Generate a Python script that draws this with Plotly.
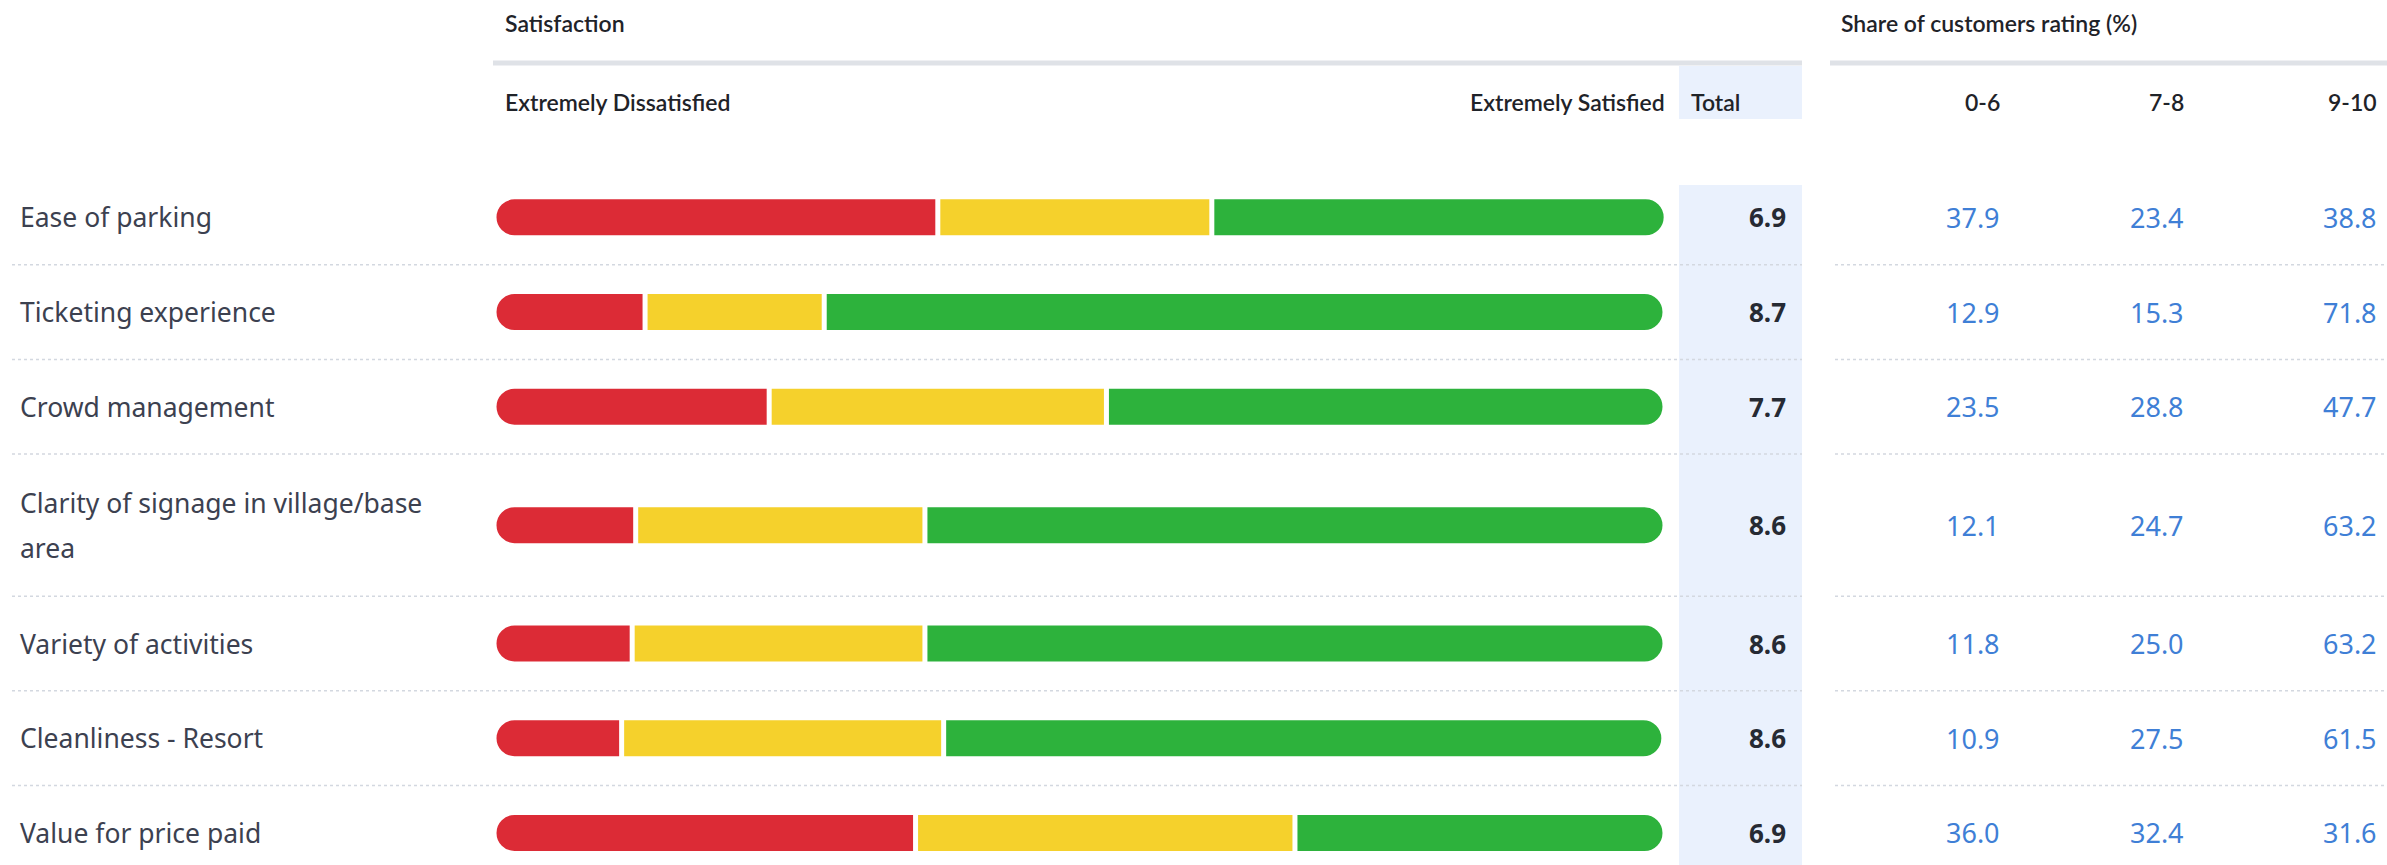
import textwrap
import plotly.graph_objects as go

# ---------------- data ----------------
categories = [
    "Ease of parking",
    "Ticketing experience",
    "Crowd management",
    "Clarity of signage in village/base area",
    "Variety of activities",
    "Cleanliness - Resort",
    "Value for price paid",
]
share_0_6 = [37.9, 12.9, 23.5, 12.1, 11.8, 10.9, 36.0]
share_7_8 = [23.4, 15.3, 28.8, 24.7, 25.0, 27.5, 32.4]
share_9_10 = [38.8, 71.8, 47.7, 63.2, 63.2, 61.5, 31.6]
totals = [6.9, 8.7, 7.7, 8.6, 8.6, 8.6, 6.9]
share_columns = ["0-6", "7-8", "9-10"]

# ---------------- layout constants ----------------
W, H = 2387, 865
BAR_X0, BAR_X1 = 494, 1665
TOTAL_X0, TOTAL_X1 = 1679, 1802
RIGHT_X0 = 1830
COL_RIGHT = [2002, 2186, 2379]
ROW_TOP = 170
UNIT = 94.7
BAR_W = 41
GAP = 5
TUCK = 2.5  # how far (in % units) the rounded segments slide under the middle segment

RED, YELLOW, GREEN = "#dc2b36", "#f5d12c", "#2db23c"
LABEL_COLOR = "#3c4150"
HEAD_COLOR = "#1f2329"
BLUE = "#3f7fd6"
TOTAL_BG = "#eaf1fd"
RULE = "#dfe2e7"
SEP = "#d3d8e0"

# wrap labels and compute row positions
wrapped = [textwrap.wrap(c, 34) for c in categories]
centers, tops = [], []
y = ROW_TOP
for lines in wrapped:
    h = UNIT * (1 + 0.5 * (len(lines) - 1))
    tops.append(y)
    centers.append(y + h / 2)
    y += h

def px(x):
    return x / W

fig = go.Figure()

common = dict(orientation="h", y=centers, width=BAR_W, hoverinfo="skip", showlegend=False)
# red: rounded capsule whose right end is tucked under the yellow segment
fig.add_trace(go.Bar(x=[v + TUCK for v in share_0_6], base=[0] * len(share_0_6),
                     marker=dict(color=RED, cornerradius="50%", line=dict(color="white", width=GAP)), **common))
# green: rounded capsule whose left end is tucked under the yellow segment
fig.add_trace(go.Bar(x=[g + TUCK for g in share_9_10],
                     base=[a + b - TUCK for a, b in zip(share_0_6, share_7_8)],
                     marker=dict(color=GREEN, cornerradius="50%", line=dict(color="white", width=GAP)), **common))
# yellow: square middle segment drawn on top
fig.add_trace(go.Bar(x=share_7_8, base=share_0_6,
                     marker=dict(color=YELLOW, cornerradius=0, line=dict(color="white", width=GAP)), **common))

shapes = []
shapes.append(dict(type="rect", xref="paper", yref="y", x0=px(TOTAL_X0), x1=px(TOTAL_X1), y0=185, y1=H,
                   fillcolor=TOTAL_BG, line=dict(width=0), layer="below"))
shapes.append(dict(type="rect", xref="paper", yref="y", x0=px(TOTAL_X0), x1=px(TOTAL_X1), y0=66, y1=119,
                   fillcolor=TOTAL_BG, line=dict(width=0), layer="below"))
shapes.append(dict(type="line", xref="paper", yref="y", x0=px(BAR_X0 - 1), x1=px(TOTAL_X1), y0=63, y1=63,
                   line=dict(color=RULE, width=5), layer="below"))
shapes.append(dict(type="line", xref="paper", yref="y", x0=px(RIGHT_X0), x1=1, y0=63, y1=63,
                   line=dict(color=RULE, width=5), layer="below"))
for t in tops[1:]:
    shapes.append(dict(type="line", xref="paper", yref="y", x0=px(12), x1=px(TOTAL_X1), y0=t, y1=t,
                       line=dict(color=SEP, width=1.5, dash="dot"), layer="below"))
    shapes.append(dict(type="line", xref="paper", yref="y", x0=px(RIGHT_X0 + 5), x1=1, y0=t, y1=t,
                       line=dict(color=SEP, width=1.5, dash="dot"), layer="below"))

ann = []
HFONT = dict(family="Lato", size=23, color=HEAD_COLOR, weight=600)

def head(text, x, y, anchor="left"):
    ann.append(dict(text=text, x=px(x), y=y, xref="paper", yref="y", xanchor=anchor, yanchor="middle",
                    showarrow=False, font=HFONT))

head("Satisfaction", 503, 23)
head("Share of customers rating (%)", 1839, 23)
head("Extremely Dissatisfied", 503, 102)
head("Extremely Satisfied", 1667, 102, "right")
head("Total", 1689, 102)
for lab, xr in zip(share_columns, COL_RIGHT):
    head(lab, xr, 102, "right")

for lines, c, tot, a, b, g in zip(wrapped, centers, totals, share_0_6, share_7_8, share_9_10):
    n = len(lines)
    for i, line in enumerate(lines):
        ann.append(dict(text=line, x=px(18), y=c + (i - (n - 1) / 2) * 45, xref="paper", yref="y",
                        xanchor="left", yanchor="middle", showarrow=False,
                        font=dict(family="Noto Sans", size=26.5, color=LABEL_COLOR)))
    ann.append(dict(text=f"{tot:.1f}", x=px(1788), y=c, xref="paper", yref="y", xanchor="right",
                    yanchor="middle", showarrow=False,
                    font=dict(family="Noto Sans", size=26, color="#262a33", weight="bold")))
    for v, xr in zip((a, b, g), COL_RIGHT):
        ann.append(dict(text=f"{v:.1f}", x=px(xr), y=c, xref="paper", yref="y", xanchor="right",
                        yanchor="middle", showarrow=False,
                        font=dict(family="Noto Sans", size=27, color=BLUE)))

fig.update_layout(
    width=W, height=H,
    margin=dict(l=0, r=0, t=0, b=0),
    paper_bgcolor="white", plot_bgcolor="rgba(0,0,0,0)",
    barmode="overlay",
    xaxis=dict(domain=[px(BAR_X0), px(BAR_X1)], range=[0, 100], visible=False, fixedrange=True),
    yaxis=dict(domain=[0, 1], range=[H, 0], visible=False, fixedrange=True),
    shapes=shapes, annotations=ann,
)

fig.write_html("out.html")
